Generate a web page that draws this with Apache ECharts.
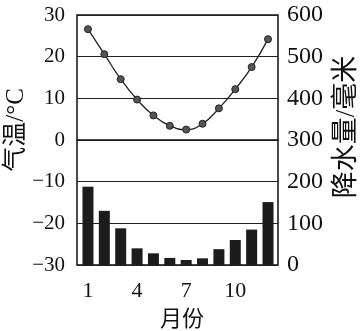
<!DOCTYPE html>
<html>
<head>
<meta charset="utf-8">
<script src="https://cdn.jsdelivr.net/npm/echarts@6/dist/echarts.min.js"></script>
<style>html,body{margin:0;padding:0;background:#fff;}#c{width:363px;height:331px;}</style>
</head>
<body>
<div id="c"></div>
<script>
var months = [1, 2, 3, 4, 5, 6, 7, 8, 9, 10, 11, 12];
var temperature = [26.6, 20.6, 14.6, 9.7, 5.9, 3.4, 2.5, 3.9, 7.6, 12.2, 17.5, 24.2];
var precipitation = [188, 130, 88, 40, 28, 17, 12, 16, 38, 60, 85, 151];
var monthTicks = [1, 4, 7, 10];
var tempTicks = [-30, -20, -10, 0, 10, 20, 30];
var precipTicks = [0, 100, 200, 300, 400, 500, 600];

var serif = '"Liberation Serif", "DejaVu Serif", "Noto Sans CJK SC", serif';
var chart = echarts.init(document.getElementById('c'));
chart.setOption({
  animation: false,
  backgroundColor: '#fff',
  grid: { left: 77, right: 85, top: 15, bottom: 66, show: true, borderColor: '#111', borderWidth: 1.5, backgroundColor: 'transparent' },
  xAxis: {
    type: 'value', min: 0.33, max: 12.61,
    axisLine: { show: true, lineStyle: { color: '#111', width: 1.5 } },
    axisTick: { show: false },
    splitLine: { show: false },
    axisLabel: { customValues: monthTicks, color: '#111', fontSize: 22, fontFamily: serif, margin: 15 }
  },
  yAxis: [
    {
      type: 'value', min: tempTicks[0], max: tempTicks[tempTicks.length - 1], interval: 10,
      axisLine: { show: false }, axisTick: { show: false },
      splitLine: { show: true, lineStyle: { color: '#222', width: 1.2 } },
      axisLabel: { color: '#111', fontSize: 21, fontFamily: serif, margin: 12,
        formatter: function (v) { return v < 0 ? '\u2212' + Math.abs(v) : String(v); } }
    },
    {
      type: 'value', min: precipTicks[0], max: precipTicks[precipTicks.length - 1], interval: 100,
      position: 'right',
      axisLine: { show: false }, axisTick: { show: false },
      splitLine: { show: false },
      axisLabel: { color: '#111', fontSize: 24, fontFamily: serif, margin: 9 }
    }
  ],
  graphic: [
    { type: 'text', x: 16, y: 130, rotation: Math.PI / 2,
      style: { text: '气温/°C', font: '25px ' + serif, fill: '#111', align: 'center', verticalAlign: 'middle' } },
    { type: 'text', x: 347, y: 127, rotation: Math.PI / 2,
      style: { text: '降水量/毫米', font: '27px ' + serif, fill: '#111', align: 'center', verticalAlign: 'middle' } },
    { type: 'text', x: 182, y: 320,
      style: { text: '月份', font: '22px ' + serif, fill: '#111', align: 'center', verticalAlign: 'middle' } }
  ],
  series: [
    {
      type: 'bar', yAxisIndex: 1, barWidth: 11,
      itemStyle: { color: '#1c1c1c' },
      data: months.map(function (m, i) { return [m, precipitation[i]]; })
    },
    {
      type: 'line', yAxisIndex: 0, smooth: true,
      symbol: 'circle', symbolSize: 7,
      lineStyle: { color: '#222', width: 1.3 },
      itemStyle: { color: '#555', borderColor: '#222', borderWidth: 1 },
      data: months.map(function (m, i) { return [m, temperature[i]]; })
    }
  ]
});
</script>
</body>
</html>
